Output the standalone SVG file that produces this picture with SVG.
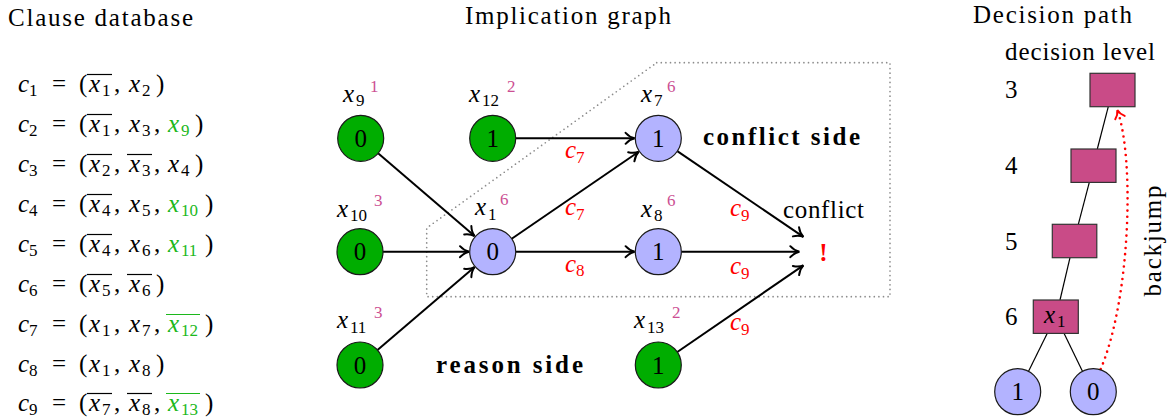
<svg xmlns="http://www.w3.org/2000/svg" width="1170" height="417" viewBox="0 0 1170 417">
<style>
.t{font-size:25px;fill:#000}
.i{font-style:italic}
.s{font-size:17px;font-style:normal}
.b{font-weight:bold}
.g{fill:#1cb81c}
.r{fill:#ff0000}
.p{fill:#cc4f93}
.ol{stroke:#000;stroke-width:1.2}
.olg{stroke:#1cb81c;stroke-width:1.2}
.gn{fill:#00ad00;stroke:#1a1a1a;stroke-width:1.2}
.bn{fill:#b3b3ff;stroke:#1a1a1a;stroke-width:1.2}
.bx{fill:#c94b87;stroke:#333;stroke-width:1.2}
.e{stroke:#000;stroke-width:2;fill:none;marker-end:url(#arr)}
.tl{stroke:#000;stroke-width:1.2;fill:none}
.c{text-anchor:middle}
</style>
<defs>
<marker id="arr" viewBox="-11 -7 13 14" refX="0" refY="0" markerWidth="13" markerHeight="14" markerUnits="userSpaceOnUse" orient="auto">
<path d="M-9,-5.5 C-6,-2.2 -3,-0.6 0,0 C-3,0.6 -6,2.2 -9,5.5" fill="none" stroke="#000" stroke-width="2" stroke-linecap="round"/>
</marker>
<marker id="arrR" viewBox="-11 -7 13 14" refX="0" refY="0" markerWidth="13" markerHeight="14" markerUnits="userSpaceOnUse" orient="auto">
<path d="M-8,-5 C-5.5,-2 -2.8,-0.6 0,0 C-2.8,0.6 -5.5,2 -8,5" fill="none" stroke="#ff0000" stroke-width="2" stroke-linecap="round"/>
</marker>
</defs>
<rect width="1170" height="417" fill="#fff"/>
<text class="t" font-family="Liberation Serif, serif" font-size="26" x="8" y="26" textLength="185">Clause database</text>
<text class="t" font-family="Liberation Serif, serif" font-size="26" x="465" y="24" textLength="206">Implication graph</text>
<text class="t" font-family="Liberation Serif, serif" font-size="26" x="973" y="23" textLength="159">Decision path</text>
<text class="t" font-family="Liberation Serif, serif" font-size="26" x="1005" y="60" textLength="150">decision level</text>
<g id="clauses">
<g id="c1"><text class="t" font-family="Liberation Serif, serif"><tspan class="i" x="18" y="91.5">c</tspan><tspan class="s" x="29" y="96">1</tspan><tspan x="52" y="91.5">=</tspan><tspan x="79" y="91.5">(</tspan><tspan class="i" x="89" y="91.5">x</tspan><tspan class="s" x="102" y="96">1</tspan><tspan x="114" y="91.5">,</tspan><tspan class="i" x="129" y="91.5">x</tspan><tspan class="s" x="142" y="96">2</tspan><tspan x="156" y="91.5">)</tspan></text><line class="ol" x1="87" y1="74.5" x2="112" y2="74.5"/></g>
<g id="c2"><text class="t" font-family="Liberation Serif, serif"><tspan class="i" x="18" y="131.5">c</tspan><tspan class="s" x="29" y="136">2</tspan><tspan x="52" y="131.5">=</tspan><tspan x="79" y="131.5">(</tspan><tspan class="i" x="89" y="131.5">x</tspan><tspan class="s" x="102" y="136">1</tspan><tspan x="114" y="131.5">,</tspan><tspan class="i" x="129" y="131.5">x</tspan><tspan class="s" x="142" y="136">3</tspan><tspan x="154" y="131.5">,</tspan><tspan class="i g" x="168" y="131.5">x</tspan><tspan class="s g" x="181" y="136">9</tspan><tspan x="195" y="131.5">)</tspan></text><line class="ol" x1="87" y1="114.5" x2="112" y2="114.5"/></g>
<g id="c3"><text class="t" font-family="Liberation Serif, serif"><tspan class="i" x="18" y="171.5">c</tspan><tspan class="s" x="29" y="176">3</tspan><tspan x="52" y="171.5">=</tspan><tspan x="79" y="171.5">(</tspan><tspan class="i" x="89" y="171.5">x</tspan><tspan class="s" x="102" y="176">2</tspan><tspan x="114" y="171.5">,</tspan><tspan class="i" x="129" y="171.5">x</tspan><tspan class="s" x="142" y="176">3</tspan><tspan x="154" y="171.5">,</tspan><tspan class="i" x="168" y="171.5">x</tspan><tspan class="s" x="181" y="176">4</tspan><tspan x="195" y="171.5">)</tspan></text><line class="ol" x1="87" y1="154.5" x2="112" y2="154.5"/><line class="ol" x1="127" y1="154.5" x2="152" y2="154.5"/></g>
<g id="c4"><text class="t" font-family="Liberation Serif, serif"><tspan class="i" x="18" y="211.5">c</tspan><tspan class="s" x="29" y="216">4</tspan><tspan x="52" y="211.5">=</tspan><tspan x="79" y="211.5">(</tspan><tspan class="i" x="89" y="211.5">x</tspan><tspan class="s" x="102" y="216">4</tspan><tspan x="114" y="211.5">,</tspan><tspan class="i" x="129" y="211.5">x</tspan><tspan class="s" x="142" y="216">5</tspan><tspan x="154" y="211.5">,</tspan><tspan class="i g" x="168" y="211.5">x</tspan><tspan class="s g" x="181" y="216">10</tspan><tspan x="205" y="211.5">)</tspan></text><line class="ol" x1="87" y1="194.5" x2="112" y2="194.5"/></g>
<g id="c5"><text class="t" font-family="Liberation Serif, serif"><tspan class="i" x="18" y="251.5">c</tspan><tspan class="s" x="29" y="256">5</tspan><tspan x="52" y="251.5">=</tspan><tspan x="79" y="251.5">(</tspan><tspan class="i" x="89" y="251.5">x</tspan><tspan class="s" x="102" y="256">4</tspan><tspan x="114" y="251.5">,</tspan><tspan class="i" x="129" y="251.5">x</tspan><tspan class="s" x="142" y="256">6</tspan><tspan x="154" y="251.5">,</tspan><tspan class="i g" x="168" y="251.5">x</tspan><tspan class="s g" x="181" y="256">11</tspan><tspan x="205" y="251.5">)</tspan></text><line class="ol" x1="87" y1="234.5" x2="112" y2="234.5"/></g>
<g id="c6"><text class="t" font-family="Liberation Serif, serif"><tspan class="i" x="18" y="291.5">c</tspan><tspan class="s" x="29" y="296">6</tspan><tspan x="52" y="291.5">=</tspan><tspan x="79" y="291.5">(</tspan><tspan class="i" x="89" y="291.5">x</tspan><tspan class="s" x="102" y="296">5</tspan><tspan x="114" y="291.5">,</tspan><tspan class="i" x="129" y="291.5">x</tspan><tspan class="s" x="142" y="296">6</tspan><tspan x="156" y="291.5">)</tspan></text><line class="ol" x1="87" y1="274.5" x2="112" y2="274.5"/><line class="ol" x1="127" y1="274.5" x2="152" y2="274.5"/></g>
<g id="c7"><text class="t" font-family="Liberation Serif, serif"><tspan class="i" x="18" y="331.5">c</tspan><tspan class="s" x="29" y="336">7</tspan><tspan x="52" y="331.5">=</tspan><tspan x="79" y="331.5">(</tspan><tspan class="i" x="89" y="331.5">x</tspan><tspan class="s" x="102" y="336">1</tspan><tspan x="114" y="331.5">,</tspan><tspan class="i" x="129" y="331.5">x</tspan><tspan class="s" x="142" y="336">7</tspan><tspan x="154" y="331.5">,</tspan><tspan class="i g" x="168" y="331.5">x</tspan><tspan class="s g" x="181" y="336">12</tspan><tspan x="205" y="331.5">)</tspan></text><line class="olg" x1="166" y1="314.5" x2="200" y2="314.5"/></g>
<g id="c8"><text class="t" font-family="Liberation Serif, serif"><tspan class="i" x="18" y="371.5">c</tspan><tspan class="s" x="29" y="376">8</tspan><tspan x="52" y="371.5">=</tspan><tspan x="79" y="371.5">(</tspan><tspan class="i" x="89" y="371.5">x</tspan><tspan class="s" x="102" y="376">1</tspan><tspan x="114" y="371.5">,</tspan><tspan class="i" x="129" y="371.5">x</tspan><tspan class="s" x="142" y="376">8</tspan><tspan x="156" y="371.5">)</tspan></text></g>
<g id="c9"><text class="t" font-family="Liberation Serif, serif"><tspan class="i" x="18" y="410.5">c</tspan><tspan class="s" x="29" y="415">9</tspan><tspan x="52" y="410.5">=</tspan><tspan x="79" y="410.5">(</tspan><tspan class="i" x="89" y="410.5">x</tspan><tspan class="s" x="102" y="415">7</tspan><tspan x="114" y="410.5">,</tspan><tspan class="i" x="129" y="410.5">x</tspan><tspan class="s" x="142" y="415">8</tspan><tspan x="154" y="410.5">,</tspan><tspan class="i g" x="168" y="410.5">x</tspan><tspan class="s g" x="181" y="415">13</tspan><tspan x="205" y="410.5">)</tspan></text><line class="ol" x1="87" y1="393.5" x2="112" y2="393.5"/><line class="ol" x1="127" y1="393.5" x2="152" y2="393.5"/><line class="olg" x1="166" y1="393.5" x2="200" y2="393.5"/></g>
</g>
<path id="cut" d="M656.7,62.7 L890,62.7 L890,296.7 L426.7,296.7 L426.7,228 Z" fill="none" stroke="#8c8c8c" stroke-width="1.7" stroke-dasharray="0 4.6" stroke-linecap="round"/>
<text class="t b" font-family="Liberation Serif, serif" x="703" y="145" textLength="157" font-size="28">conflict side</text>
<text class="t b" font-family="Liberation Serif, serif" x="436" y="373" textLength="147" font-size="28">reason side</text>
<g id="connectors">
<line class="e" x1="378.1" y1="153.3" x2="474.6" y2="236.1"/>
<line class="e" x1="383" y1="251.7" x2="469" y2="251.7"/>
<line class="e" x1="377.5" y1="350.1" x2="474.6" y2="267.1"/>
<line class="e" x1="515.7" y1="138.3" x2="634.6" y2="138.3"/>
<line class="e" x1="511.7" y1="238.7" x2="638.7" y2="151.7"/>
<line class="e" x1="515.7" y1="251.7" x2="634.6" y2="251.7"/>
<line class="e" x1="677.3" y1="151.2" x2="803.4" y2="236.9"/>
<line class="e" x1="681.3" y1="251.7" x2="799.3" y2="251.7"/>
<line class="e" x1="677.3" y1="352" x2="803.4" y2="265.4"/>
<g id="tree-edges">
<line class="tl" x1="1108.3" y1="106.7" x2="1097.3" y2="149"/>
<line class="tl" x1="1089.3" y1="182.3" x2="1078.3" y2="224.3"/>
<line class="tl" x1="1070" y1="257.7" x2="1060" y2="300"/>
<line class="tl" x1="1047.3" y1="333.3" x2="1028.3" y2="371.7"/>
<line class="tl" x1="1064" y1="333.3" x2="1082.7" y2="371.7"/>
</g>
<path id="backjump" d="M1100.7,369 C1130,300 1135,160 1117.3,110" fill="none" stroke="#ff0000" stroke-width="2.6" stroke-dasharray="0 6.2" stroke-linecap="round" marker-end="url(#arrR)"/>
</g>
<g id="edge-labels">
<text class="t i r" font-family="Liberation Serif, serif" x="565" y="158">c<tspan class="s" x="576" y="162.5">7</tspan></text>
<text class="t i r" font-family="Liberation Serif, serif" x="565" y="215">c<tspan class="s" x="576" y="219.5">7</tspan></text>
<text class="t i r" font-family="Liberation Serif, serif" x="565" y="271.7">c<tspan class="s" x="576" y="276.2">8</tspan></text>
<text class="t i r" font-family="Liberation Serif, serif" x="730" y="216">c<tspan class="s" x="741" y="220.5">9</tspan></text>
<text class="t i r" font-family="Liberation Serif, serif" x="730" y="274">c<tspan class="s" x="741" y="278.5">9</tspan></text>
<text class="t i r" font-family="Liberation Serif, serif" x="730" y="330">c<tspan class="s" x="741" y="334.5">9</tspan></text>
<text class="t" font-family="Liberation Serif, serif" x="1161" y="241" transform="rotate(-90 1161 241)" text-anchor="middle" textLength="111">backjump</text>
</g>
<g id="x9"><circle class="gn" cx="360.7" cy="138.3" r="23"/><text class="t c" font-family="Liberation Serif, serif" x="360.7" y="146.8">0</text><text class="t i" font-family="Liberation Serif, serif" x="343" y="101.7">x<tspan class="s" x="356" y="106">9</tspan><tspan class="s p" x="370" y="91.5">1</tspan></text></g>
<g id="x12"><circle class="gn" cx="492.7" cy="138.3" r="23"/><text class="t c" font-family="Liberation Serif, serif" x="492.7" y="146.8">1</text><text class="t i" font-family="Liberation Serif, serif" x="469" y="101.7">x<tspan class="s" x="482" y="106">12</tspan><tspan class="s p" x="507" y="91.5">2</tspan></text></g>
<g id="x7"><circle class="bn" cx="658.3" cy="138.3" r="23"/><text class="t c" font-family="Liberation Serif, serif" x="658.3" y="146.8">1</text><text class="t i" font-family="Liberation Serif, serif" x="641" y="101.7">x<tspan class="s" x="654" y="106">7</tspan><tspan class="s p" x="667" y="91.5">6</tspan></text></g>
<g id="x10"><circle class="gn" cx="360" cy="251.7" r="23"/><text class="t c" font-family="Liberation Serif, serif" x="360" y="260.2">0</text><text class="t i" font-family="Liberation Serif, serif" x="337" y="216.7">x<tspan class="s" x="350" y="221">10</tspan><tspan class="s p" x="374" y="205.5">3</tspan></text></g>
<g id="x1"><circle class="bn" cx="492.7" cy="251.7" r="23"/><text class="t c" font-family="Liberation Serif, serif" x="492.7" y="260.2">0</text><text class="t i" font-family="Liberation Serif, serif" x="475" y="215">x<tspan class="s" x="488" y="219.5">1</tspan><tspan class="s p" x="500" y="205">6</tspan></text></g>
<g id="x8"><circle class="bn" cx="658.3" cy="251.7" r="23"/><text class="t c" font-family="Liberation Serif, serif" x="658.3" y="260.2">1</text><text class="t i" font-family="Liberation Serif, serif" x="641" y="216.7">x<tspan class="s" x="654" y="221">8</tspan><tspan class="s p" x="667" y="205.5">6</tspan></text></g>
<g id="x11"><circle class="gn" cx="360" cy="365" r="23"/><text class="t c" font-family="Liberation Serif, serif" x="360" y="373.5">0</text><text class="t i" font-family="Liberation Serif, serif" x="337" y="328.3">x<tspan class="s" x="350" y="332.8">11</tspan><tspan class="s p" x="374" y="318">3</tspan></text></g>
<g id="x13"><circle class="gn" cx="658.3" cy="365" r="23"/><text class="t c" font-family="Liberation Serif, serif" x="658.3" y="373.5">1</text><text class="t i" font-family="Liberation Serif, serif" x="634" y="328.3">x<tspan class="s" x="647" y="332.8">13</tspan><tspan class="s p" x="672" y="318">2</tspan></text></g>
<g id="conflict"><text class="t b r" font-family="Liberation Serif, serif" x="823.5" y="260.5" text-anchor="middle">!</text><text class="t" font-family="Liberation Serif, serif" x="783" y="217.5" textLength="81">conflict</text></g>
<g id="level3"><text class="t" font-family="Liberation Serif, serif" x="1005" y="98">3</text><rect class="bx" x="1090" y="73.3" width="45" height="33.4"/></g>
<g id="level4"><text class="t" font-family="Liberation Serif, serif" x="1005" y="174">4</text><rect class="bx" x="1071" y="149" width="45" height="33.4"/></g>
<g id="level5"><text class="t" font-family="Liberation Serif, serif" x="1005" y="250">5</text><rect class="bx" x="1052.3" y="224.3" width="44.5" height="33.4"/></g>
<g id="level6"><text class="t" font-family="Liberation Serif, serif" x="1005" y="325">6</text><rect class="bx" x="1033.3" y="300" width="45" height="33.4"/><text class="t i" font-family="Liberation Serif, serif" x="1044" y="322.7">x<tspan class="s" x="1057" y="327">1</tspan></text></g>
<g id="leaf1"><circle class="bn" cx="1017.7" cy="391.7" r="23"/><text class="t c" font-family="Liberation Serif, serif" x="1017.7" y="400.2">1</text></g>
<g id="leaf0"><circle class="bn" cx="1093.3" cy="391.7" r="23"/><text class="t c" font-family="Liberation Serif, serif" x="1093.3" y="400.2">0</text></g>
</svg>
